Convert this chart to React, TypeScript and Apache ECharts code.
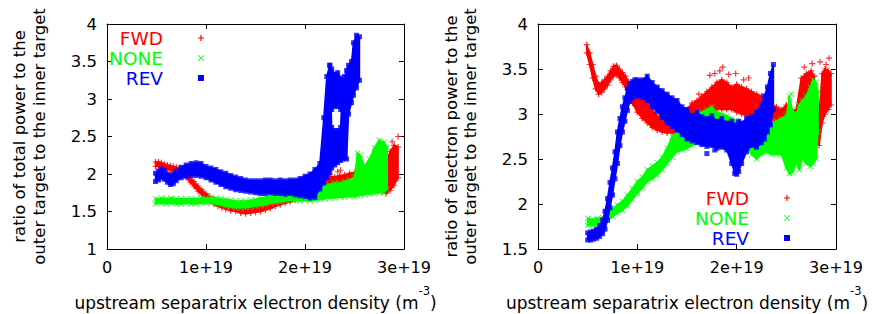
import React, { useEffect, useRef } from 'react';
import * as echarts from 'echarts';

// x values are in units of 1e19 m^-3
const xTickValues = [0, 1, 2, 3];
const seriesNames = ['FWD', 'NONE', 'REV'];
const seriesColors = ['#ff0000', '#00ff00', '#0000ff'];

// ---- left panel: ratio of total power (bands: [x, low, high]) ----
const fwdTotal = [
  [0.49, 2.10, 2.16], [0.52, 2.10, 2.16], [0.55, 2.09, 2.15], [0.58, 2.07, 2.13], [0.61, 2.06, 2.12],
  [0.64, 2.05, 2.11], [0.67, 2.04, 2.10], [0.70, 2.03, 2.09], [0.73, 2.02, 2.08], [0.76, 2.00, 2.06],
  [0.80, 1.95, 2.02], [0.84, 1.89, 1.96], [0.88, 1.83, 1.90], [0.92, 1.77, 1.84], [0.96, 1.72, 1.79],
  [1.00, 1.67, 1.74], [1.04, 1.63, 1.70], [1.08, 1.60, 1.66], [1.12, 1.57, 1.63], [1.16, 1.55, 1.61],
  [1.20, 1.53, 1.59], [1.25, 1.51, 1.57], [1.30, 1.50, 1.56], [1.35, 1.48, 1.55], [1.40, 1.47, 1.54],
  [1.45, 1.48, 1.55], [1.50, 1.49, 1.56], [1.55, 1.50, 1.58], [1.60, 1.52, 1.60], [1.65, 1.54, 1.62],
  [1.70, 1.57, 1.64], [1.75, 1.59, 1.66], [1.80, 1.61, 1.68], [1.85, 1.63, 1.70], [1.90, 1.65, 1.72],
  [1.95, 1.67, 1.74], [2.00, 1.70, 1.78], [2.05, 1.75, 1.84], [2.10, 1.80, 1.90], [2.15, 1.83, 1.95],
  [2.20, 1.84, 1.96], [2.25, 1.85, 1.97], [2.30, 1.86, 1.96], [2.35, 1.87, 1.98], [2.40, 1.88, 1.99],
  [2.45, 1.90, 2.01], [2.50, 1.90, 2.02], [2.55, 1.92, 2.03], [2.60, 1.92, 2.04], [2.65, 1.93, 2.05],
  [2.70, 1.93, 2.06], [2.75, 1.94, 2.08], [2.78, 1.76, 2.12], [2.82, 1.74, 2.18], [2.86, 1.78, 2.30],
  [2.90, 1.85, 2.38], [2.94, 1.95, 2.36],
];
const noneTotal = [
  [0.49, 1.60, 1.67], [0.55, 1.61, 1.68], [0.60, 1.60, 1.67], [0.65, 1.61, 1.68], [0.70, 1.60, 1.67],
  [0.75, 1.60, 1.67], [0.80, 1.61, 1.67], [0.85, 1.60, 1.67], [0.90, 1.60, 1.67], [0.95, 1.61, 1.68],
  [1.00, 1.61, 1.68], [1.05, 1.61, 1.69], [1.10, 1.60, 1.68], [1.15, 1.59, 1.67], [1.20, 1.57, 1.66],
  [1.25, 1.56, 1.65], [1.30, 1.55, 1.64], [1.35, 1.55, 1.64], [1.40, 1.55, 1.64], [1.45, 1.56, 1.65],
  [1.50, 1.57, 1.66], [1.55, 1.58, 1.68], [1.60, 1.59, 1.69], [1.65, 1.61, 1.71], [1.70, 1.62, 1.73],
  [1.75, 1.63, 1.74], [1.80, 1.64, 1.75], [1.85, 1.65, 1.74], [1.90, 1.65, 1.75], [1.95, 1.64, 1.75],
  [2.00, 1.65, 1.76], [2.05, 1.64, 1.77], [2.10, 1.65, 1.80], [2.15, 1.66, 1.85], [2.20, 1.67, 1.85],
  [2.25, 1.68, 1.86], [2.30, 1.68, 1.88], [2.35, 1.69, 1.88], [2.40, 1.69, 1.90], [2.45, 1.70, 1.92],
  [2.50, 1.70, 1.96], [2.53, 1.71, 2.28], [2.56, 1.72, 2.25], [2.60, 1.72, 2.10], [2.65, 1.73, 2.20],
  [2.70, 1.74, 2.35], [2.75, 1.75, 2.45], [2.80, 1.76, 2.42], [2.83, 1.80, 2.35],
];
const revTotal = [
  [0.49, 1.90, 2.01], [0.52, 1.92, 2.04], [0.55, 1.95, 2.07], [0.58, 1.93, 2.05], [0.61, 1.89, 2.00],
  [0.64, 1.86, 1.98], [0.67, 1.87, 2.00], [0.70, 1.91, 2.04], [0.75, 1.95, 2.09], [0.80, 1.97, 2.12],
  [0.85, 1.98, 2.14], [0.90, 1.98, 2.15], [0.95, 1.97, 2.14], [1.00, 1.95, 2.10], [1.05, 1.92, 2.08],
  [1.10, 1.89, 2.06], [1.15, 1.86, 2.03], [1.20, 1.83, 2.01], [1.25, 1.81, 1.98], [1.30, 1.79, 1.96],
  [1.35, 1.78, 1.94], [1.40, 1.77, 1.92], [1.45, 1.76, 1.91], [1.50, 1.75, 1.91], [1.55, 1.74, 1.91],
  [1.60, 1.74, 1.92], [1.65, 1.75, 1.92], [1.70, 1.74, 1.91], [1.75, 1.74, 1.92], [1.80, 1.73, 1.91],
  [1.85, 1.74, 1.92], [1.90, 1.72, 1.92], [1.95, 1.71, 1.94], [2.00, 1.70, 1.97], [2.05, 1.68, 2.00],
  [2.10, 1.69, 2.06], [2.15, 1.80, 2.14], [2.19, 1.88, 2.75], [2.22, 1.95, 3.30], [2.25, 2.02, 3.45],
  [2.27, 2.08, 2.62], [2.30, 2.12, 2.58], [2.33, 2.15, 2.58], [2.36, 2.18, 2.62], [2.38, 2.20, 3.25],
  [2.40, 2.22, 3.30], [2.42, 2.20, 3.38], [2.44, 2.80, 3.45], [2.47, 2.95, 3.50], [2.49, 3.05, 3.75],
  [2.52, 3.15, 3.85], [2.55, 3.25, 3.83],
];
const revTotalUpper = [
  [2.25, 2.86, 3.45], [2.27, 2.86, 3.40], [2.30, 2.90, 3.33], [2.33, 2.90, 3.35], [2.36, 2.86, 3.28], [2.38, 2.86, 3.25],
];
const fwdTotalStray = [[2.25, 1.99], [2.33, 2.03], [2.36, 2.05], [2.88, 2.43], [2.94, 2.50], [2.58, 2.10], [2.63, 2.06]];

// ---- right panel: ratio of electron power ----
const fwdElectron = [
  [0.49, 3.68, 3.77], [0.52, 3.55, 3.68], [0.55, 3.40, 3.55], [0.58, 3.28, 3.42], [0.61, 3.22, 3.33],
  [0.64, 3.24, 3.35], [0.67, 3.28, 3.38], [0.70, 3.32, 3.42], [0.73, 3.38, 3.48], [0.76, 3.42, 3.53],
  [0.79, 3.44, 3.54], [0.82, 3.40, 3.50], [0.85, 3.35, 3.46], [0.88, 3.30, 3.42], [0.91, 3.22, 3.36],
  [0.95, 3.12, 3.30], [1.00, 3.02, 3.22], [1.05, 2.95, 3.18], [1.10, 2.90, 3.12], [1.15, 2.85, 3.05],
  [1.20, 2.82, 2.98], [1.25, 2.80, 2.95], [1.30, 2.79, 2.90], [1.35, 2.79, 2.88], [1.40, 2.78, 2.86],
  [1.45, 2.80, 2.90], [1.50, 2.85, 3.05], [1.55, 2.92, 3.12], [1.60, 2.95, 3.15], [1.65, 2.98, 3.20],
  [1.70, 3.00, 3.25], [1.75, 3.02, 3.30], [1.80, 3.05, 3.35], [1.85, 3.05, 3.38], [1.90, 3.05, 3.35],
  [1.95, 3.05, 3.30], [2.00, 3.02, 3.33], [2.05, 3.00, 3.30], [2.10, 2.98, 3.28], [2.15, 2.95, 3.25],
  [2.20, 2.95, 3.22], [2.25, 2.95, 3.20], [2.30, 2.90, 3.15], [2.35, 2.82, 3.10], [2.40, 2.80, 3.08],
  [2.45, 2.78, 3.05], [2.50, 2.80, 3.10], [2.55, 2.82, 3.02], [2.60, 2.85, 3.05], [2.65, 2.95, 3.40],
  [2.70, 3.00, 3.45], [2.75, 3.05, 3.48], [2.78, 2.95, 3.42], [2.81, 2.70, 3.10], [2.83, 2.65, 3.00],
  [2.86, 2.90, 3.45], [2.89, 3.00, 3.50], [2.92, 3.05, 3.48], [2.95, 3.10, 3.45],
];
const noneElectron = [
  [0.50, 1.76, 1.84], [0.55, 1.76, 1.83], [0.60, 1.77, 1.84], [0.65, 1.78, 1.85], [0.70, 1.82, 1.90],
  [0.75, 1.86, 1.95], [0.80, 1.90, 1.99], [0.85, 1.93, 2.03], [0.90, 1.98, 2.10], [0.95, 2.05, 2.17],
  [1.00, 2.12, 2.25], [1.05, 2.18, 2.30], [1.10, 2.25, 2.38], [1.15, 2.28, 2.42], [1.20, 2.32, 2.46],
  [1.25, 2.38, 2.52], [1.30, 2.45, 2.62], [1.35, 2.52, 2.75], [1.40, 2.58, 2.80], [1.45, 2.60, 2.82],
  [1.50, 2.62, 2.82], [1.55, 2.65, 2.95], [1.60, 2.68, 3.00], [1.65, 2.70, 3.02], [1.70, 2.72, 3.05],
  [1.75, 2.72, 3.08], [1.80, 2.75, 3.02], [1.85, 2.75, 3.00], [1.90, 2.72, 2.98], [1.95, 2.72, 2.95],
  [2.00, 2.70, 2.92], [2.05, 2.70, 2.88], [2.10, 2.65, 2.85], [2.15, 2.55, 2.85], [2.20, 2.50, 2.82],
  [2.25, 2.55, 2.85], [2.30, 2.58, 2.88], [2.35, 2.55, 2.90], [2.40, 2.55, 2.92], [2.45, 2.55, 2.95],
  [2.50, 2.40, 2.98], [2.53, 2.34, 3.20], [2.56, 2.35, 3.05], [2.60, 2.45, 3.00], [2.63, 2.38, 3.10],
  [2.66, 2.50, 3.15], [2.70, 2.45, 3.20], [2.74, 2.42, 3.30], [2.77, 2.45, 3.38], [2.80, 2.50, 3.35],
  [2.82, 2.80, 3.25],
];
const revElectron = [
  [0.50, 1.60, 1.68], [0.53, 1.60, 1.69], [0.56, 1.61, 1.70], [0.59, 1.62, 1.72], [0.62, 1.64, 1.76],
  [0.65, 1.67, 1.82], [0.675, 1.72, 1.92], [0.70, 1.82, 2.06], [0.725, 1.96, 2.24], [0.75, 2.10, 2.40],
  [0.775, 2.28, 2.58], [0.80, 2.45, 2.80], [0.825, 2.65, 2.95], [0.85, 2.80, 3.08], [0.875, 2.92, 3.18],
  [0.90, 3.04, 3.28], [0.925, 3.14, 3.34], [0.95, 3.18, 3.36], [0.975, 3.20, 3.38], [1.00, 3.20, 3.38],
  [1.05, 3.18, 3.38], [1.10, 3.15, 3.42], [1.15, 3.08, 3.35], [1.20, 3.03, 3.30], [1.25, 2.96, 3.26],
  [1.30, 2.90, 3.22], [1.35, 2.86, 3.18], [1.40, 2.82, 3.15], [1.45, 2.77, 3.08], [1.50, 2.72, 3.05],
  [1.55, 2.70, 2.98], [1.60, 2.68, 3.02], [1.65, 2.66, 2.97], [1.70, 2.64, 2.95], [1.75, 2.65, 2.98],
  [1.80, 2.62, 2.92], [1.85, 2.63, 2.95], [1.90, 2.60, 2.90], [1.95, 2.45, 2.92], [1.98, 2.34, 2.88],
  [2.00, 2.33, 2.85], [2.02, 2.36, 2.92], [2.05, 2.45, 2.90], [2.10, 2.58, 2.95], [2.15, 2.65, 2.97],
  [2.20, 2.63, 3.02], [2.25, 2.68, 3.10], [2.28, 2.72, 3.20], [2.31, 2.80, 3.30], [2.34, 2.88, 3.45],
  [2.37, 3.05, 3.55],
];
const fwdElectronStray = [
  [1.62, 3.22], [1.73, 3.43], [1.78, 3.45], [1.83, 3.48], [1.86, 3.52], [1.92, 3.44], [1.99, 3.45],
  [2.07, 3.38], [2.12, 3.40], [2.68, 3.52], [2.76, 3.56], [2.84, 3.58], [2.90, 3.55], [2.93, 3.62],
];
const noneElectronStray = [[2.55, 3.22], [1.93, 2.93]];
const revElectronStray = [[1.70, 2.56], [1.78, 2.60], [1.90, 2.88]];

const FONT = '"DejaVu Sans", "Liberation Sans", sans-serif';
const PLUS = 'path://M0 4H10V6H0Z M4 0H6V10H4Z';
const CROSS = 'path://M1 0L5 4L9 0L10 1L6 5L10 9L9 10L5 6L1 10L0 9L4 5L0 1Z';
const symbols = [PLUS, CROSS, 'rect'];

function bandSeries(idx: number, data: number[][], panel: number) {
  const color = seriesColors[idx];
  return {
    type: 'custom',
    name: seriesNames[idx],
    xAxisIndex: panel * 2,
    yAxisIndex: panel * 2,
    z: 2 + idx,
    silent: true,
    clip: true,
    itemStyle: { color },
    encode: { x: 0, y: [1, 2] },
    data,
    renderItem: (params: any, api: any) => {
      const i = params.dataIndex;
      if (i >= data.length - 1) return null;
      const b = data[i + 1];
      const x0 = api.value(0), lo0 = api.value(1), hi0 = api.value(2);
      const pts = [
        api.coord([x0, hi0]),
        api.coord([b[0], b[2]]),
        api.coord([b[0], b[1]]),
        api.coord([x0, lo0]),
      ];
      return {
        type: 'polygon',
        shape: { points: pts },
        style: { fill: color, stroke: color, lineWidth: 1.5 },
      };
    },
  };
}

// markers along the band edges, built from the same band arrays
function edgeSeries(idx: number, data: number[][], panel: number) {
  return {
    type: 'scatter',
    name: seriesNames[idx],
    xAxisIndex: panel * 2,
    yAxisIndex: panel * 2,
    z: 2 + idx,
    silent: true,
    symbol: symbols[idx],
    symbolSize: idx === 2 ? 5 : 6,
    itemStyle: { color: seriesColors[idx] },
    data: data.flatMap((d) => [[d[0], d[1]], [d[0], d[2]]]),
  };
}

function straySeries(idx: number, data: number[][], panel: number) {
  return {
    type: 'scatter',
    name: seriesNames[idx],
    xAxisIndex: panel * 2,
    yAxisIndex: panel * 2,
    z: 2 + idx,
    silent: true,
    symbol: symbols[idx],
    symbolSize: idx === 2 ? 5 : 6,
    itemStyle: { color: seriesColors[idx] },
    data,
  };
}

function xAxes(gridIndex: number) {
  const common = {
    type: 'value', gridIndex, min: xTickValues[0], max: xTickValues[xTickValues.length - 1], interval: 1,
    splitLine: { show: false },
    axisLine: { show: true, onZero: false, lineStyle: { color: '#000', width: 1 } },
    axisTick: { show: true, inside: true, length: 5, lineStyle: { color: '#000' } },
  };
  return [
    {
      ...common, position: 'bottom',
      axisLabel: {
        show: true, margin: 10, color: '#000', fontFamily: FONT, fontSize: 16,
        formatter: (v: number) => (v === 0 ? '0' : `${v}e+19`),
      },
    },
    { ...common, position: 'top', axisLabel: { show: false } },
  ];
}

function yAxes(gridIndex: number, min: number) {
  const common = {
    type: 'value', gridIndex, min, max: 4, interval: 0.5,
    splitLine: { show: false },
    axisLine: { show: true, onZero: false, lineStyle: { color: '#000', width: 1 } },
    axisTick: { show: true, inside: true, length: 5, lineStyle: { color: '#000' } },
  };
  return [
    { ...common, position: 'left', axisLabel: { show: true, margin: 10, color: '#000', fontFamily: FONT, fontSize: 16.5 } },
    { ...common, position: 'right', axisLabel: { show: false } },
  ];
}

const legendData = seriesNames.map((n, i) => ({
  name: n,
  icon: symbols[i],
  textStyle: { color: seriesColors[i] },
}));

const legendCommon = {
  orient: 'vertical',
  align: 'right',
  itemWidth: 6,
  itemHeight: 6,
  itemGap: 0,
  padding: 0,
  selectedMode: false,
  textStyle: { fontFamily: FONT, fontSize: 18.5, lineHeight: 20, padding: [0, 30, 0, 0] },
  data: legendData,
};

const xTitle = '{n|upstream separatrix electron density (m}{s|-3}{n|)}';
const titleRich = {
  n: { fontFamily: FONT, fontSize: 17, fill: '#000', padding: [9, 0, 0, 0] },
  s: { fontFamily: FONT, fontSize: 11.5, fill: '#000', verticalAlign: 'top', lineHeight: 12 },
};

export default function App() {
  const ref = useRef<HTMLDivElement>(null);
  useEffect(() => {
    if (!ref.current) return;
    const chart = echarts.init(ref.current, null, { renderer: 'svg' });
    const bands: [number, number[][], number][] = [
      [0, fwdTotal, 0], [1, noneTotal, 0], [2, revTotal, 0], [2, revTotalUpper, 0],
      [0, fwdElectron, 1], [1, noneElectron, 1], [2, revElectron, 1],
    ];
    const strays: [number, number[][], number][] = [
      [0, fwdTotalStray, 0], [0, fwdElectronStray, 1], [1, noneElectronStray, 1], [2, revElectronStray, 1],
    ];
    chart.setOption({
      animation: false,
      backgroundColor: '#fff',
      grid: [
        { left: 107, top: 24, width: 297, height: 225 },
        { left: 538, top: 24, width: 298, height: 225 },
      ],
      xAxis: [...xAxes(0), ...xAxes(1)],
      yAxis: [...yAxes(0, 1), ...yAxes(1, 1.5)],
      legend: [
        { ...legendCommon, right: 670, top: 28 },
        { ...legendCommon, right: 84, top: 188 },
      ],
      graphic: [
        {
          type: 'text', x: 29.5, y: 136.5, rotation: Math.PI / 2,
          style: {
            text: 'ratio of total power to the\nouter target to the inner target',
            fontFamily: FONT, fontSize: 16.5, lineHeight: 19.5, fill: '#000',
            align: 'center', verticalAlign: 'middle',
          },
        },
        {
          type: 'text', x: 461, y: 136.5, rotation: Math.PI / 2,
          style: {
            text: 'ratio of electron power to the\nouter target to the inner target',
            fontFamily: FONT, fontSize: 16.5, lineHeight: 19.5, fill: '#000',
            align: 'center', verticalAlign: 'middle',
          },
        },
        {
          type: 'text', x: 255.5, y: 298,
          style: { text: xTitle, rich: titleRich, align: 'center', verticalAlign: 'middle' },
        },
        {
          type: 'text', x: 687, y: 298,
          style: { text: xTitle, rich: titleRich, align: 'center', verticalAlign: 'middle' },
        },
      ],
      series: [
        ...bands.flatMap(([i, d, p]) => [bandSeries(i, d, p), edgeSeries(i, d, p)]),
        ...strays.map(([i, d, p]) => straySeries(i, d, p)),
      ],
    });
    return () => chart.dispose();
  }, []);
  return <div ref={ref} style={{ position: 'absolute', left: 0, top: 0, width: 874, height: 314 }} />;
}
